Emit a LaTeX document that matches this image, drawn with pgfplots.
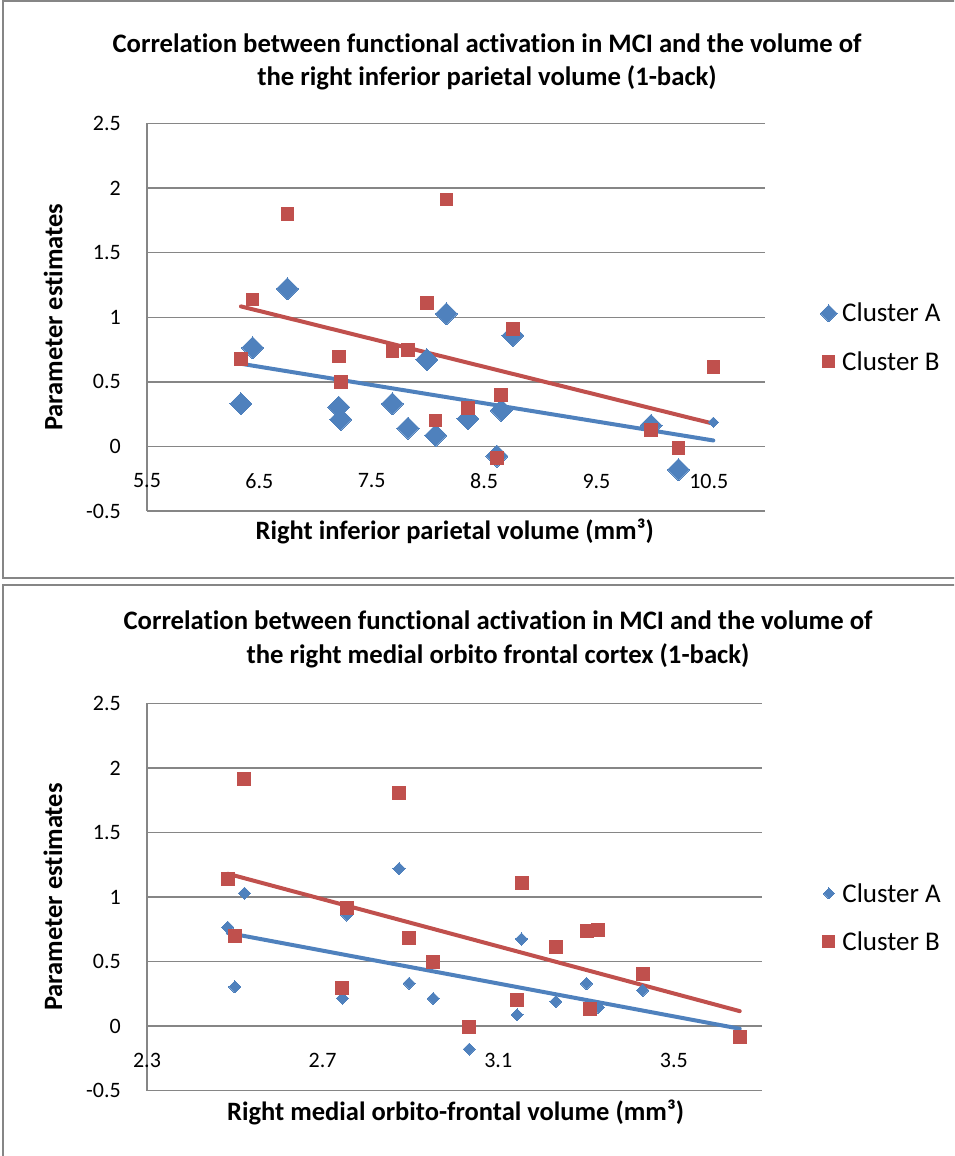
\documentclass[border=0pt]{standalone}
\usepackage{pgfplots}
\usepackage{pgfplotstable}
\pgfplotsset{compat=1.18}
\usepackage{fontspec}
\setmainfont{Carlito}[Ligatures=NoCommon]
\definecolor{exblue}{HTML}{4F81BD}
\definecolor{exred}{HTML}{C0504D}
\definecolor{gridc}{HTML}{868686}

\pgfplotstableread{
x a b
6.336 0.330 0.679
6.440 0.764 1.138
6.750 1.220 1.800
7.207 0.304 0.697
7.224 0.209 0.498
7.684 0.330 0.738
7.823 0.142 0.748
7.990 0.671 1.109
8.069 0.085 0.201
8.164 1.027 1.910
8.356 0.214 0.297
8.614 -0.075 -0.088
8.653 0.279 0.400
8.756 0.859 0.911
9.986 0.163 0.129
10.230 -0.180 -0.013
10.540 nan 0.614
}\topdata

\pgfplotstableread{
x a b
2.484 0.766 1.140
2.500 0.304 0.697
2.522 1.029 1.911
2.745 0.216 0.298
2.755 0.861 0.911
2.874 1.220 1.802
2.897 0.332 0.681
2.952 0.214 0.500
3.034 -0.178 -0.010
3.143 0.088 0.201
3.153 0.675 1.111
3.231 0.190 0.616
3.301 0.330 0.740
3.309 0.163 0.131
3.328 0.145 0.748
3.429 0.278 0.402
3.650 -0.075 -0.087
}\botdata

\pgfplotsset{
  fixedimg/.style={legend image code/.code={\path[draw=none, fill=none] (-11.5pt,-1pt) rectangle (11.5pt,1pt);
    \draw[##1] plot coordinates {(0pt,0pt)};}},
  excel/.style={
    scale only axis,
    anchor=south west,
    ymin=-0.5, ymax=2.5,
    ytick={-0.5,0,0.5,1,1.5,2,2.5},
    yticklabels={-0.5,0,0.5,1,1.5,2,2.5},
    axis lines*=left,
    axis line style={gridc, line width=1.4pt, -},
    ymajorgrids,
    grid style={gridc, line width=1.4pt},
    major tick length=0pt,
    tick label style={font=\fontsize{22}{26}\selectfont},
    yticklabel style={anchor=east, inner sep=0pt, xshift=-26pt},
    xticklabel style={anchor=center, inner sep=0pt, yshift=30pt},
    label style={font=\fontsize{26.5}{30}\selectfont\bfseries},
    ylabel={Parameter estimates},
    legend style={draw=none, fill=none, font=\fontsize{27}{31}\selectfont,
      row sep=24pt, anchor=west, inner sep=0pt},
    legend cell align=left,
    unbounded coords=discard,
    clip=false,
  }
}

\begin{document}
\begin{tikzpicture}[x=1pt,y=1pt]
\useasboundingbox (0,0) rectangle (954,1156);
\clip (0,0) rectangle (954,1156);
% panel frames
\draw[gridc, line width=2pt] (1000,1155) -- (3,1155) -- (3,578) -- (1000,578);
\draw[gridc, line width=2pt] (1000,571) -- (3,571) -- (3,-10);
% titles
\node[align=center, font=\fontsize{26.7}{33}\selectfont\bfseries] at (487,1094.5)
  {Correlation between functional activation in MCI and the volume of\\the right inferior parietal volume (1-back)};
\node[align=center, font=\fontsize{26.7}{34}\selectfont\bfseries] at (498,517)
  {Correlation between functional activation in MCI and the volume of\\the right medial orbito frontal cortex (1-back)};

\begin{axis}[excel,
  at={(147pt,645pt)}, width=618pt, height=387.5pt,
  xmin=5.5, xmax=11,
  xtick={5.5,6.5,7.5,8.5,9.5,10.5},
  xticklabels={5.5,6.5,7.5,8.5,9.5,10.5},
  xlabel={Right inferior parietal volume (mm³)},
  xlabel style={at={(axis description cs:0.498,-0.054)}, anchor=center},
  ylabel style={at={(axis description cs:-0.152,0.5)}, anchor=center},
  legend style={at={(axis description cs:1.0842,0.448)}},
]
\addlegendimage{only marks, mark=square*, mark size=6pt,
  mark options={rotate=45, fill=exblue, draw=exblue, line width=0pt}, fixedimg}
\addlegendimage{only marks, mark=square*, mark size=6pt,
  mark options={fill=exred, draw=exred, line width=0pt}, fixedimg}
\legend{Cluster A, Cluster B}
\addplot[only marks, mark=square*, mark size=7.8pt,
  mark options={rotate=45, fill=exblue, draw=exblue, line width=0pt}]
  table[x=x, y=a]{\topdata};
\addplot[only marks, mark=square*, mark size=3.6pt,
  mark options={rotate=45, fill=exblue, draw=exblue, line width=0pt}]
  coordinates {(10.540,0.188)};
\addplot[only marks, mark=square*, mark size=6.3pt,
  mark options={fill=exred, draw=exred, line width=0pt}]
  table[x=x, y=b]{\topdata};
\addplot[exblue, line width=4pt, line cap=round]
  coordinates {(6.336,0.640) (10.540,0.046)};
\addplot[exred, line width=4pt, line cap=round]
  coordinates {(6.336,1.084) (10.540,0.176)};
\end{axis}

\begin{axis}[excel,
  at={(147pt,65.3pt)}, width=614.7pt, height=387.4pt,
  xmin=2.3, xmax=3.7,
  xtick={2.3,2.7,3.1,3.5},
  xticklabels={2.3,2.7,3.1,3.5},
  xlabel={Right medial orbito-frontal volume (mm³)},
  xlabel style={at={(axis description cs:0.502,-0.055)}, anchor=center},
  ylabel style={at={(axis description cs:-0.153,0.5)}, anchor=center},
  legend style={at={(axis description cs:1.0903,0.447)}},
]
\addlegendimage{only marks, mark=square*, mark size=3.9pt,
  mark options={rotate=45, fill=exblue, draw=exblue, line width=0pt}, fixedimg}
\addlegendimage{only marks, mark=square*, mark size=6pt,
  mark options={fill=exred, draw=exred, line width=0pt}, fixedimg}
\legend{Cluster A, Cluster B}
\addplot[only marks, mark=square*, mark size=4.3pt,
  mark options={rotate=45, fill=exblue, draw=exblue, line width=0pt}]
  table[x=x, y=a]{\botdata};
\addplot[only marks, mark=square*, mark size=6.5pt,
  mark options={fill=exred, draw=exred, line width=0pt}]
  table[x=x, y=b]{\botdata};
\addplot[exblue, line width=4pt, line cap=round]
  coordinates {(2.484,0.722) (3.650,-0.020)};
\addplot[exred, line width=4pt, line cap=round]
  coordinates {(2.484,1.180) (3.650,0.116)};
\end{axis}
\end{tikzpicture}
\end{document}
